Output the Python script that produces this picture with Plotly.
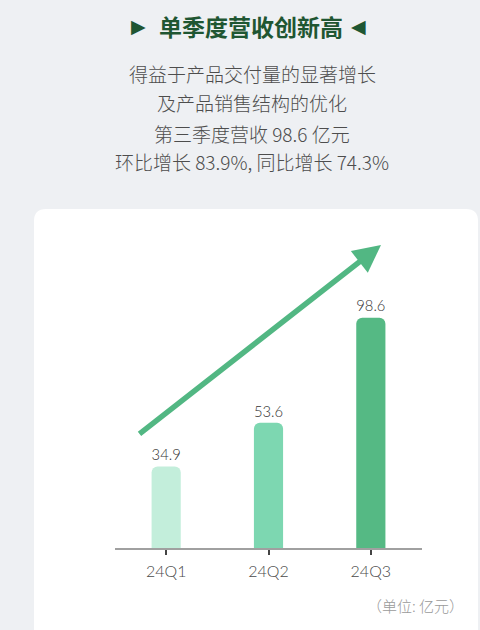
import plotly.graph_objects as go

# data
quarters = ["24Q1", "24Q2", "24Q3"]
revenue = [34.9, 53.6, 98.6]  # 亿元
bar_colors = ["#c3eedb", "#7dd7b1", "#55b984"]

title_text = "单季度营收创新高"
subtitle_lines = [
    "得益于产品交付量的显著增长",
    "及产品销售结构的优化",
    "第三季度营收 98.6 亿元",
    "环比增长 83.9%, 同比增长 74.3%",
]
unit_text = "（单位: 亿元）"

W, H = 480, 630
# plot area in pixels
L, R, T, B = 115, 422, 215, 548
PX_PER_UNIT = 2.335


def px_x(px):
    return (px - L) / (R - L)


def px_y(py):
    return (B - py) / (B - T)


CJK = "Noto Sans CJK SC"
NUM = "Lato"

fig = go.Figure(
    go.Bar(
        x=quarters,
        y=revenue,
        width=0.285,
        marker=dict(color=bar_colors, cornerradius=6, line=dict(width=0)),
        text=[f"{v:.1f}" for v in revenue],
        textposition="outside",
        textfont=dict(family=NUM, size=18, color="#333333", weight=300),
        cliponaxis=False,
        hoverinfo="skip",
    )
)

# white rounded card behind the chart
cx0, cx1, cy0, cy1 = px_x(34), px_x(478), px_y(209), px_y(660)
rx, ry = 12 / (R - L), 12 / (B - T)
card = (
    f"M {cx0 + rx},{cy0} L {cx1 - rx},{cy0} Q {cx1},{cy0} {cx1},{cy0 - ry} "
    f"L {cx1},{cy1} L {cx0},{cy1} L {cx0},{cy0 - ry} Q {cx0},{cy0} {cx0 + rx},{cy0} Z"
)
fig.add_shape(type="path", path=card, xref="paper", yref="paper",
              fillcolor="white", line=dict(width=0), layer="below")

# trend arrow (tip in paper coords, tail as pixel offset)
fig.add_annotation(
    x=px_x(381), y=px_y(245), xref="paper", yref="paper",
    ax=138 - 381, ay=435 - 245, axref="pixel", ayref="pixel",
    text="", showarrow=True, arrowhead=2, arrowsize=1.0, arrowwidth=5.5,
    arrowcolor="#52b783", standoff=0,
)

# title
fig.add_annotation(x=px_x(251), y=px_y(26), xref="paper", yref="paper", text=f"<b>{title_text}</b>",
                   xanchor="center", yanchor="middle", showarrow=False,
                   font=dict(family=CJK, size=23, color="#1f5632"))
for tx, sym in [(138, "▶"), (358, "◀")]:
    fig.add_annotation(x=px_x(tx), y=px_y(26), xref="paper", yref="paper", text=sym,
                       xanchor="center", yanchor="middle", showarrow=False,
                       font=dict(family="DejaVu Sans", size=19, color="#1f5632"))

line_y = [73, 102, 133, 162]
for txt, yy in zip(subtitle_lines, line_y):
    fig.add_annotation(x=px_x(252), y=px_y(yy), xref="paper", yref="paper", text=txt,
                       xanchor="center", yanchor="middle", showarrow=False,
                       font=dict(family=CJK, size=19, color="#4d4d4d", weight=300))

fig.add_annotation(x=px_x(466), y=px_y(605), xref="paper", yref="paper", text=unit_text,
                   xanchor="right", yanchor="middle", showarrow=False,
                   font=dict(family=CJK, size=15, color="#9a9a9a", weight=300))

fig.update_layout(
    width=W, height=H,
    margin=dict(l=L, r=W - R, t=T, b=H - B, pad=0),
    paper_bgcolor="#eef0f3",
    plot_bgcolor="rgba(0,0,0,0)",
    showlegend=False,
    xaxis=dict(
        range=[-0.5, 2.5], showgrid=False, zeroline=False,
        showline=True, linecolor="#a0a0a0", linewidth=1.5,
        ticks="outside", ticklen=5, tickwidth=1.5, tickcolor="#444444",
        tickfont=dict(family=NUM, size=16, color="#4a4a4a", weight=300),
        ticklabelstandoff=3, fixedrange=True,
    ),
    yaxis=dict(
        range=[0, (B - T) / PX_PER_UNIT], visible=False, fixedrange=True,
    ),
)

fig.write_html(
    "out.html",
    config={"displayModeBar": False},
    post_script="document.body.style.margin='0';document.body.style.overflow='hidden';",
)
